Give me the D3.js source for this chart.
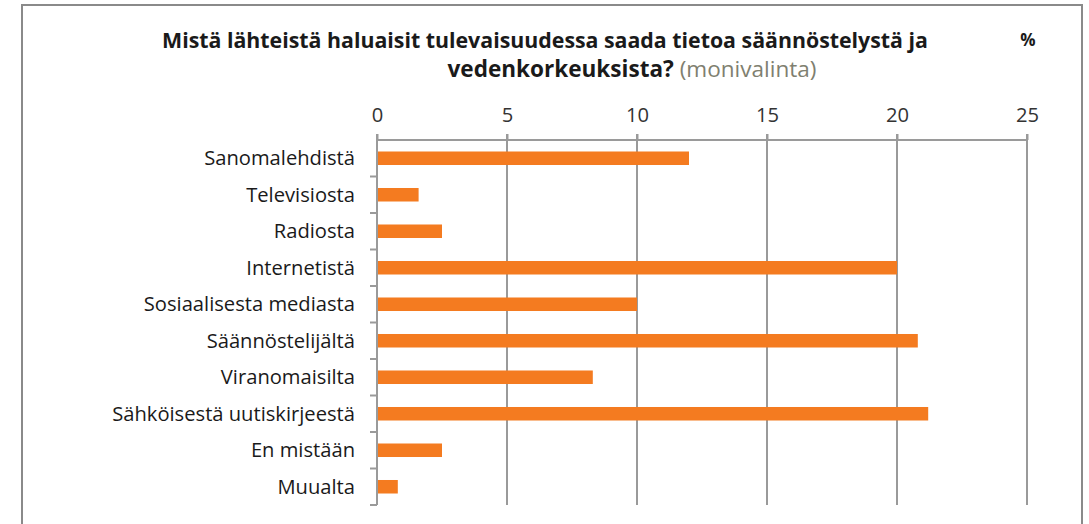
<!DOCTYPE html>
<html>
<head>
<meta charset="utf-8">
<script src="https://cdn.jsdelivr.net/npm/d3@7"></script>
<style>
  body { margin: 0; background: #fff; }
  text { font-family: "Open Sans", sans-serif; }
</style>
</head>
<body>
<div id="chart"></div>
<script>
// data
var categories = ["Sanomalehdistä", "Televisiosta", "Radiosta", "Internetistä",
  "Sosiaalisesta mediasta", "Säännöstelijältä", "Viranomaisilta",
  "Sähköisestä uutiskirjeestä", "En mistään", "Muualta"];
var values = [12.0, 1.6, 2.5, 20.0, 10.0, 20.8, 8.3, 21.2, 2.5, 0.8];
var tickValues = [0, 5, 10, 15, 20, 25];

var svgWidth = 1089;
var svgHeight = 524;
var margin = { top: 140, left: 377, right: 62, bottom: 19 };
var width = svgWidth - margin.left - margin.right;
var height = svgHeight - margin.top - margin.bottom;

var svg = d3.select("#chart")
  .append("svg")
  .attr("width", svgWidth)
  .attr("height", svgHeight);

// scale a text's font so it spans the wanted width
function fitWidth(sel, target) {
  var w = sel.node().getComputedTextLength();
  var fs = +sel.attr("font-size");
  sel.attr("font-size", fs * target / w);
}

// frame
svg.append("path")
  .attr("d", "M22,524 L22,5 L1082,5 L1082,524")
  .attr("fill", "none")
  .attr("stroke", "#8a8a8a")
  .attr("stroke-width", 2);

// title
var title = svg.append("text")
  .attr("x", 545)
  .attr("y", 48)
  .attr("text-anchor", "middle")
  .attr("font-size", 20)
  .attr("font-weight", "bold")
  .attr("fill", "#1a1a1a")
  .text("Mistä lähteistä haluaisit tulevaisuudessa saada tietoa säännöstelystä ja");
fitWidth(title, 766);

var title2 = svg.append("text")
  .attr("x", 632)
  .attr("y", 77)
  .attr("text-anchor", "middle")
  .attr("font-size", title.attr("font-size"));
title2.append("tspan")
  .attr("font-weight", "bold")
  .attr("fill", "#1a1a1a")
  .text("vedenkorkeuksista? ");
title2.append("tspan")
  .attr("fill", "#7f7f70")
  .text("(monivalinta)");
fitWidth(title2, 369);

svg.append("text")
  .attr("x", 1028)
  .attr("y", 46)
  .attr("text-anchor", "middle")
  .attr("font-size", 17)
  .attr("font-weight", "bold")
  .attr("fill", "#1a1a1a")
  .text("%");

var chartGroup = svg.append("g")
  .attr("transform", `translate(${margin.left}, ${margin.top})`);

var x = d3.scaleLinear().domain([0, 25]).range([0, width]);
var y = d3.scaleBand().domain(categories).range([0, height]).paddingInner(0.63).paddingOuter(0.315);
var yEdges = d3.scaleLinear().domain([0, categories.length]).range([0, height]);

// label font size from the widest label
var probe = svg.append("text").attr("font-size", 16).text(categories[7]);
fitWidth(probe, 243);
var labelSize = +probe.attr("font-size");
probe.remove();

// gridlines
chartGroup.append("g")
  .selectAll("line")
  .data(tickValues.slice(1))
  .enter()
  .append("line")
  .attr("x1", d => x(d))
  .attr("x2", d => x(d))
  .attr("y1", -6)
  .attr("y2", height)
  .attr("stroke", "#9a9a9a")
  .attr("stroke-width", 2);

// top axis
var topAxis = d3.axisTop(x).tickValues(tickValues).tickSize(6).tickPadding(12);
var gx = chartGroup.append("g").call(topAxis);
gx.select(".domain").attr("stroke", "#9a9a9a").attr("stroke-width", 2).attr("d", `M0,0H${width}`);
gx.selectAll(".tick line").attr("stroke", "#9a9a9a").attr("stroke-width", 2);
gx.selectAll(".tick text")
  .attr("font-size", labelSize)
  .attr("fill", "#333")
  .attr("font-family", "'Open Sans', sans-serif");

// bars
chartGroup.selectAll("rect")
  .data(values)
  .enter()
  .append("rect")
  .attr("x", 1)
  .attr("y", (d, i) => y(categories[i]))
  .attr("width", d => x(d) - 1)
  .attr("height", y.bandwidth())
  .attr("fill", "#f47b20");

// left axis with ticks between categories
chartGroup.append("line")
  .attr("x1", 0).attr("x2", 0)
  .attr("y1", -6).attr("y2", height)
  .attr("stroke", "#9a9a9a")
  .attr("stroke-width", 2);

chartGroup.append("g")
  .selectAll("line")
  .data(d3.range(1, categories.length + 1))
  .enter()
  .append("line")
  .attr("x1", -7).attr("x2", 0)
  .attr("y1", d => yEdges(d)).attr("y2", d => yEdges(d))
  .attr("stroke", "#9a9a9a")
  .attr("stroke-width", 2);

chartGroup.append("g")
  .selectAll("text")
  .data(categories)
  .enter()
  .append("text")
  .attr("x", -22)
  .attr("y", d => y(d) + y.bandwidth() / 2)
  .attr("dy", "0.35em")
  .attr("text-anchor", "end")
  .attr("font-size", labelSize)
  .attr("fill", "#1a1a1a")
  .text(d => d);
</script>
</body>
</html>
